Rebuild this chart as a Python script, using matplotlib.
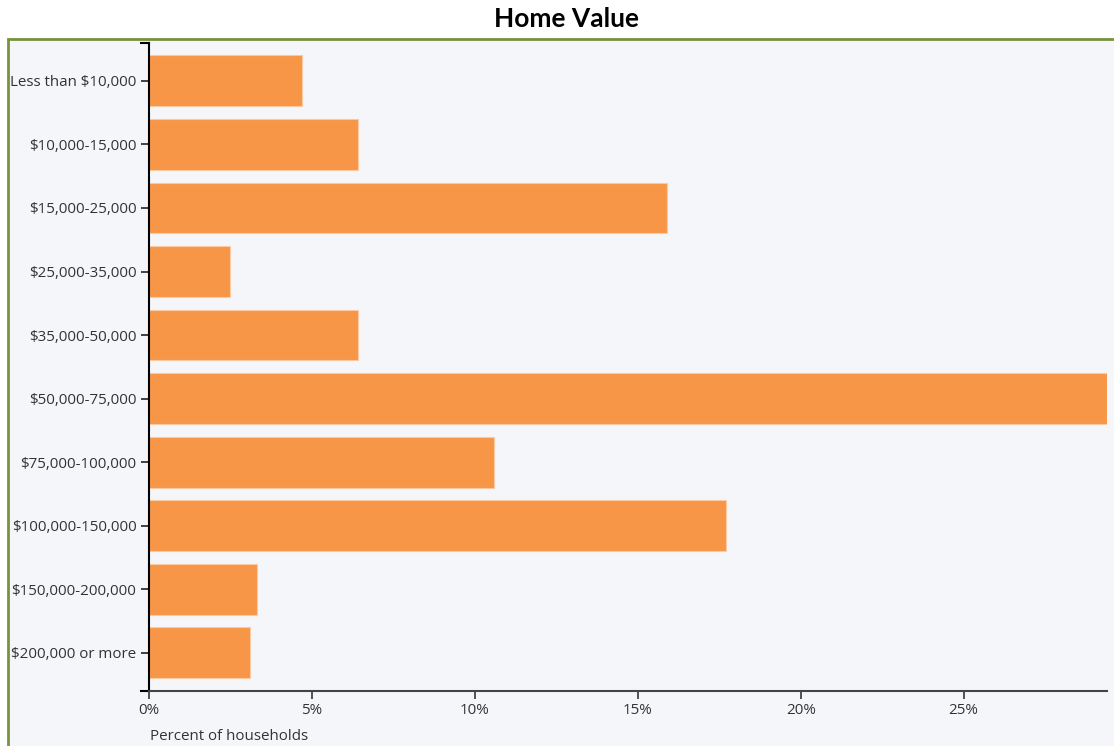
import matplotlib
matplotlib.use("Agg")
import matplotlib.pyplot as plt
from matplotlib.patches import Rectangle
from matplotlib.lines import Line2D
from matplotlib.ticker import FuncFormatter

categories = ["Less than $10,000", "$10,000-15,000", "$15,000-25,000", "$25,000-35,000",
              "$35,000-50,000", "$50,000-75,000", "$75,000-100,000", "$100,000-150,000",
              "$150,000-200,000", "$200,000 or more"]
values = [4.7, 6.4, 15.9, 2.5, 6.4, 29.4, 10.6, 17.7, 3.3, 3.1]
x_ticks = [0, 5, 10, 15, 20, 25]
title = "Home Value"
x_label = "Percent of households"

W, H = 1114, 746
BG = "#f5f6fa"
BAR = "#f79646"
FRAME = "#77933c"
TXT = "#333333"

plt.rcParams['font.family'] = ['Open Sans', 'DejaVu Sans']

fig = plt.figure(figsize=(W / 100, H / 100), dpi=100)
fig.patch.set_facecolor("white")

# framed panel
fig.patches.append(Rectangle((7.5 / W, -0.1), 1.2, 1 - 39 / H + 0.1, transform=fig.transFigure,
                             facecolor=BG, edgecolor=FRAME, linewidth=2, zorder=-5))

fig.text(567 / W, 1 - 19 / H, title, ha="center", va="center", fontsize=19,
         fontweight="bold", family=["Lato", "DejaVu Sans"], color="black")

ax = fig.add_axes([149 / W, 1 - 691 / H, (1107 - 149) / W, (691 - 42.7) / H])
ax.set_zorder(5)
ax.set_facecolor("none")

ypos = list(range(len(categories)))
ax.barh(ypos, values, height=0.8, color=BAR, edgecolor="#fbc9a3", linewidth=0.8)

ax.set_xlim(0, max(values))
ax.set_ylim(len(categories) - 1 + 0.6, -0.6)

ax.set_yticks(ypos)
ax.set_yticklabels(categories)
ax.set_xticks(x_ticks)
ax.xaxis.set_major_formatter(FuncFormatter(lambda v, p: f"{v:.0f}%"))

for s in ["top", "right"]:
    ax.spines[s].set_visible(False)
ax.spines["left"].set_color("black")
ax.spines["left"].set_linewidth(1.5)
ax.spines["bottom"].set_color("#444444")
ax.spines["bottom"].set_linewidth(1.5)

ax.tick_params(axis="y", length=6, width=1.3, color="#333333", pad=3,
               labelsize=10.9, labelcolor=TXT)
ax.tick_params(axis="x", length=6, width=1.3, color="#444444", pad=3,
               labelsize=10.9, labelcolor=TXT)

# outer ticks of the y domain (top and bottom)
tick_len = 8 / ((1107 - 149))
for yy in (0, 1):
    ax.add_line(Line2D([-tick_len, 0], [yy, yy], transform=ax.transAxes,
                       color="black", linewidth=1.5, clip_on=False))

fig.text(150 / W, 1 - 737 / H, x_label, ha="left", va="center", fontsize=10.9, color=TXT)

fig.savefig("out.png", dpi=100, facecolor=fig.get_facecolor())
